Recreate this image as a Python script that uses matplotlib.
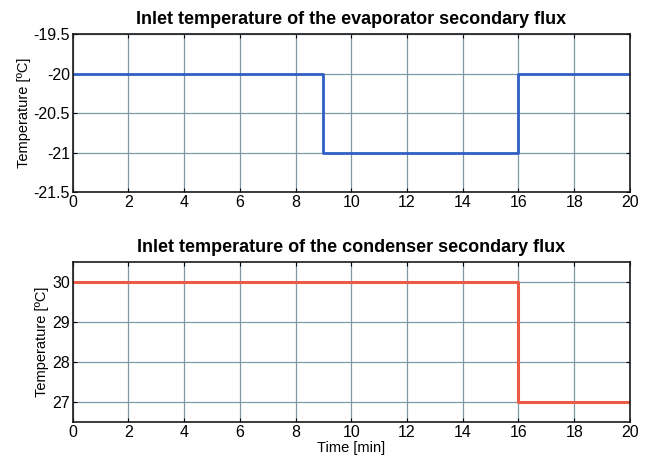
import matplotlib
matplotlib.use("Agg")
import matplotlib.pyplot as plt
import numpy as np

# data
t_evap = [0, 9, 9, 16, 16, 20]
T_evap = [-20, -20, -21, -21, -20, -20]
t_cond = [0, 16, 16, 20]
T_cond = [30, 30, 27, 27]
xticks = list(range(0, 21, 2))
evap_yticks = [-21.5, -21, -20.5, -20, -19.5]
cond_yticks = [27, 28, 29, 30]

plt.rcParams['font.family'] = ['Liberation Sans', 'DejaVu Sans']

fig = plt.figure(figsize=(6.61, 4.61), dpi=100)
ax1 = fig.add_axes([0.110, 0.583, 0.843, 0.343])
ax2 = fig.add_axes([0.110, 0.085, 0.843, 0.347])

def style(ax):
	ax.grid(True, color='#7f98a8', linewidth=0.9)
	ax.set_axisbelow(True)
	ax.tick_params(direction='in', top=True, right=True, labelsize=11.5, length=3, pad=2)
	for s in ax.spines.values():
		s.set_linewidth(1.2)
		s.set_color('#1a1a1a')
	ax.set_xlim(0, 20)
	ax.set_xticks(xticks)

# evaporator
ax1.plot(t_evap, T_evap, color='#2f5fc4', linewidth=2)
style(ax1)
ax1.set_ylim(-21.5, -19.5)
ax1.set_yticks(evap_yticks)
ax1.set_yticklabels(['-21.5', '-21', '-20.5', '-20', '-19.5'])
ax1.set_ylabel('Temperature [ºC]', fontsize=10.5, labelpad=2)
ax1.set_title('Inlet temperature of the evaporator secondary flux', fontsize=13, fontweight='bold', pad=7)

# condenser
ax2.plot(t_cond, T_cond, color='#ea5a44', linewidth=2.2)
style(ax2)
ax2.set_ylim(26.5, 30.5)
ax2.set_yticks(cond_yticks)
ax2.set_ylabel('Temperature [ºC]', fontsize=10.5, labelpad=2)
ax2.set_xlabel('Time [min]', fontsize=10.5, labelpad=1)
ax2.set_title('Inlet temperature of the condenser secondary flux', fontsize=13, fontweight='bold', pad=7)

fig.savefig('out.png', dpi=100)
